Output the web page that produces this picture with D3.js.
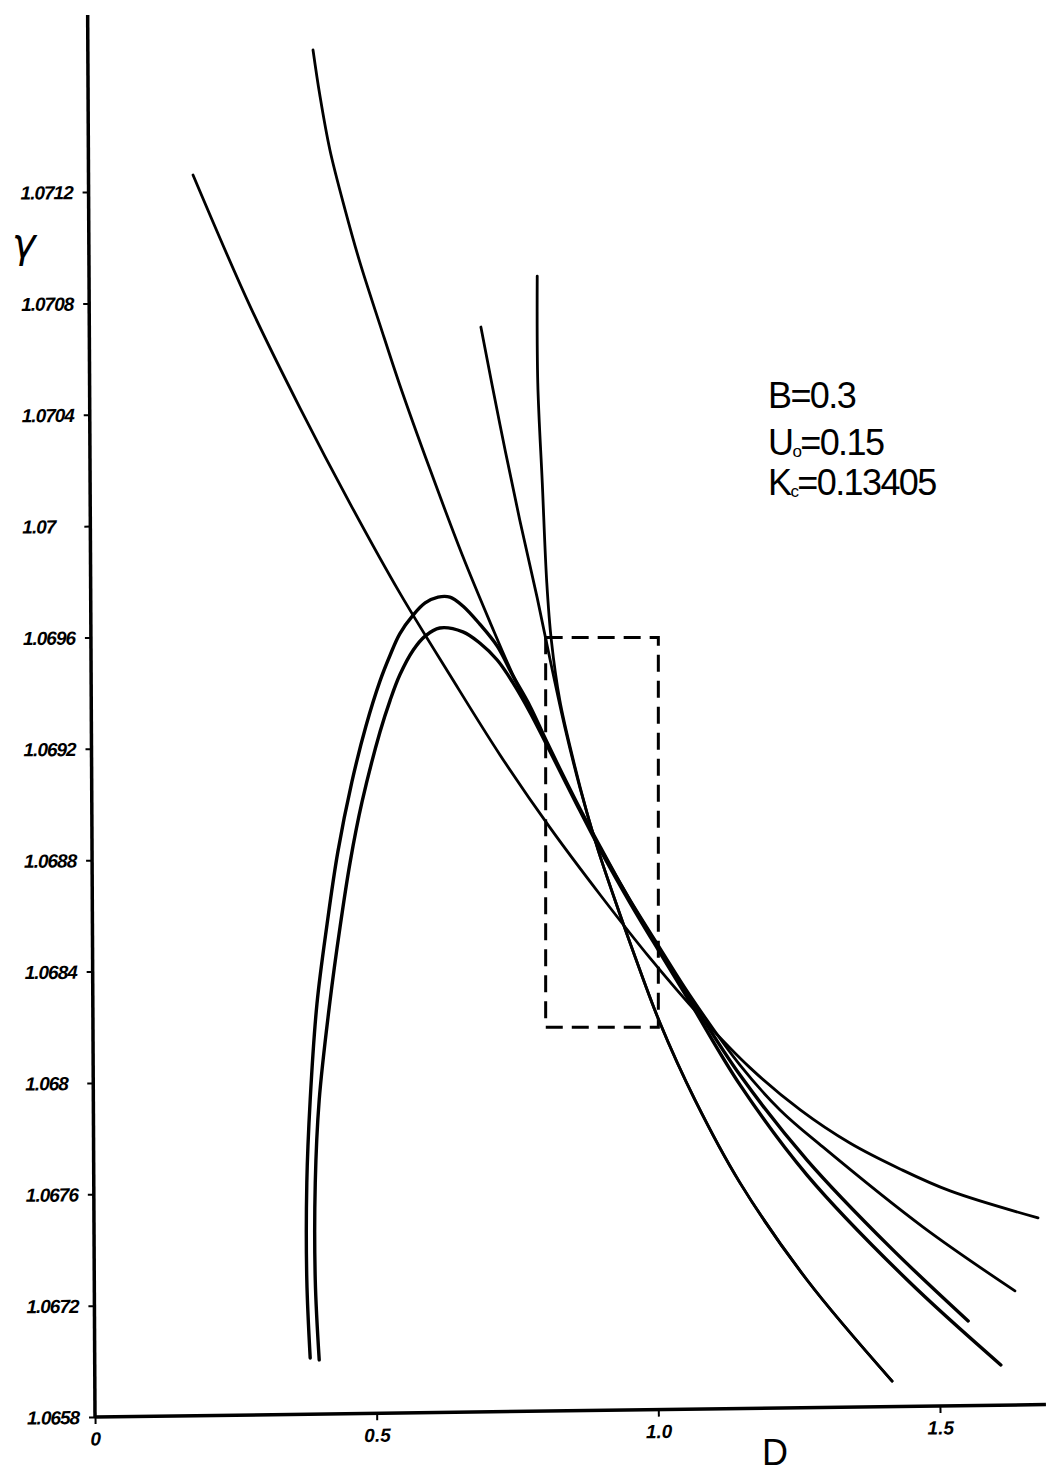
<!DOCTYPE html>
<html>
<head>
<meta charset="utf-8">
<script src="https://cdn.jsdelivr.net/npm/d3@7"></script>
<style>
  body { margin: 0; background: #fff; }
  .tick-label { font-family: "Liberation Sans Narrow", "Liberation Sans", sans-serif; font-weight: bold; font-style: italic; }
</style>
</head>
<body>
<svg id="chart" width="1046" height="1474"></svg>
<script>
//axis ticks
var D_TICKS = [0, 0.5, 1.0, 1.5];
var D_LABELS = ["0", "0.5", "1.0", "1.5"];
var G_TICKS = [1.0668, 1.0672, 1.0676, 1.0680, 1.0684, 1.0688, 1.0692, 1.0696, 1.0700, 1.0704, 1.0708, 1.0712];
var G_LABELS = ["1.0658", "1.0672", "1.0676", "1.068", "1.0684", "1.0688", "1.0692", "1.0696", "1.07", "1.0704", "1.0708", "1.0712"];

//curves, [D, gamma]
var curve1 = [[0.174,1.071261],[0.275,1.070791],[0.364,1.070424],[0.453,1.070080],[0.541,1.069760],[0.630,1.069465],
  [0.719,1.069178],[0.808,1.068916],[0.897,1.068675],[0.985,1.068449],[1.074,1.068240],[1.163,1.068054],[1.252,1.067903],
  [1.340,1.067784],[1.429,1.067691],[1.518,1.067612],[1.674,1.067515]];
var curve2 = [[0.387,1.071710],[0.399,1.071549],[0.417,1.071351],[0.444,1.071136],[0.470,1.070949],[0.506,1.070722],
  [0.541,1.070507],[0.595,1.070202],[0.652,1.069896],[0.701,1.069656],[0.742,1.069465],[0.802,1.069221],[0.852,1.069016],
  [0.897,1.068844],[0.950,1.068657],[1.003,1.068485],[1.056,1.068316],[1.145,1.068064],[1.216,1.067903],[1.292,1.067770],
  [1.470,1.067482],[1.633,1.067253]];
var curve3 = [[0.685,1.070715],[0.719,1.070363],[0.754,1.070022],[0.785,1.069742],[0.808,1.069519],[0.834,1.069278],
  [0.861,1.069059],[0.893,1.068837],[0.923,1.068657],[0.955,1.068474],[1.003,1.068215],[1.065,1.067939],[1.145,1.067641],
  [1.264,1.067292],[1.415,1.066929]];
var curve4 = [[0.785,1.070898],[0.786,1.070514],[0.794,1.070155],[0.802,1.069796],[0.810,1.069591],[0.825,1.069375],
  [0.849,1.069160],[0.873,1.068973],[0.893,1.068837],[0.923,1.068657],[0.955,1.068474],[1.003,1.068215],[1.065,1.067939],
  [1.145,1.067641],[1.264,1.067292],[1.415,1.066929]];
var hump1 = [[0.382,1.067012],[0.376,1.067292],[0.376,1.067641],[0.382,1.067939],[0.394,1.068284],[0.412,1.068571],
  [0.431,1.068829],[0.456,1.069081],[0.481,1.069282],[0.506,1.069444],[0.524,1.069537],[0.541,1.069613],[0.565,1.069681],
  [0.586,1.069724],[0.609,1.069745],[0.630,1.069745],[0.653,1.069713],[0.683,1.069648],[0.714,1.069569],[0.742,1.069462],
  [0.772,1.069354],[0.802,1.069225],[0.852,1.069020],[0.897,1.068847],[0.950,1.068653],[1.003,1.068477],[1.056,1.068305],
  [1.145,1.068028],[1.264,1.067723],[1.411,1.067411],[1.550,1.067145]];
var hump2 = [[0.398,1.067005],[0.391,1.067292],[0.391,1.067641],[0.398,1.067939],[0.417,1.068291],[0.435,1.068560],
  [0.453,1.068794],[0.474,1.069009],[0.506,1.069261],[0.524,1.069375],[0.541,1.069465],[0.565,1.069555],[0.586,1.069605],
  [0.612,1.069634],[0.653,1.069620],[0.683,1.069580],[0.714,1.069519],[0.742,1.069437],[0.772,1.069332],[0.802,1.069214],
  [0.852,1.069013],[0.897,1.068837],[0.950,1.068646],[1.003,1.068467],[1.056,1.068291],[1.145,1.067993],[1.264,1.067669],
  [1.442,1.067292],[1.608,1.066987]];

//dashed box, D range and gamma range
var BOX_D = [0.8, 1.0];
var BOX_G = [1.0682, 1.0696];

//parameter text: [main, subscript, rest]
var PARAMS = [["B", "", "=0.3"], ["U", "o", "=0.15"], ["K", "c", "=0.13405"]];

var LINE_COLOR = "#000";

var svg = d3.select("#chart");

var x = d3.scaleLinear().domain([0, 1.5]).range([95, 940]);
var y = d3.scaleLinear().domain([1.0668, 1.0712]).range([1417, 192]);

//draw x axis (slightly tilted like the scan)
var xAxis = svg.append("g")
    .attr("transform", "translate(0,1417) rotate(-0.75," + x(0) + ",0)")
    .call(d3.axisBottom(x).tickValues(D_TICKS).tickFormat(function (d, i) { return D_LABELS[i]; }).tickSize(7));
xAxis.select(".domain").remove();
xAxis.append("line")
    .attr("x1", x(0))
    .attr("x2", 1046)
    .style("stroke", LINE_COLOR)
    .style("stroke-width", 3.5);
xAxis.selectAll(".tick line").style("stroke-width", 2);
xAxis.selectAll(".tick text")
    .attr("class", "tick-label")
    .attr("y", 15)
    .style("font-size", "19px")
    .style("fill", LINE_COLOR);

//draw y axis
var yAxis = svg.append("g")
    .attr("transform", "translate(" + x(0) + ",0) rotate(-0.3,0," + y(1.0668) + ")")
    .call(d3.axisLeft(y).tickValues(G_TICKS).tickFormat(function (d, i) { return G_LABELS[i]; }).tickSize(6));
yAxis.select(".domain").remove();
yAxis.append("line")
    .attr("y1", y(1.0668))
    .attr("y2", 15)
    .style("stroke", LINE_COLOR)
    .style("stroke-width", 3.5);
yAxis.selectAll(".tick line").style("stroke-width", 2);
yAxis.selectAll(".tick text")
    .attr("class", "tick-label")
    .attr("x", -68)
    .attr("dy", "0.35em")
    .style("text-anchor", "start")
    .style("font-size", "19px")
    .style("letter-spacing", "-1px")
    .style("fill", LINE_COLOR);

//axis titles
svg.append("text")
    .attr("x", 12)
    .attr("y", 257)
    .style("font-family", "'DejaVu Sans', sans-serif")
    .style("font-style", "italic")
    .style("font-size", "40px")
    .text("γ");
svg.append("text")
    .attr("x", 775)
    .attr("y", 1465)
    .style("text-anchor", "middle")
    .style("font-family", "'Liberation Sans', sans-serif")
    .style("font-size", "36px")
    .text("D");

//draw the curves
var line = d3.line()
    .x(function (d) { return x(d[0]); })
    .y(function (d) { return y(d[1]); })
    .curve(d3.curveCatmullRom.alpha(0.5));

[curve1, curve2, curve3, curve4].forEach(function (c) {
    svg.append("path")
        .attr("d", line(c))
        .style("fill", "none")
        .style("stroke", LINE_COLOR)
        .style("stroke-width", 2.8)
        .style("stroke-linecap", "round");
});
[hump1, hump2].forEach(function (c) {
    svg.append("path")
        .attr("d", line(c))
        .style("fill", "none")
        .style("stroke", LINE_COLOR)
        .style("stroke-width", 3.4)
        .style("stroke-linecap", "round");
});

//draw dashed box
svg.append("rect")
    .attr("x", x(BOX_D[0]))
    .attr("y", y(BOX_G[1]))
    .attr("width", x(BOX_D[1]) - x(BOX_D[0]))
    .attr("height", y(BOX_G[0]) - y(BOX_G[1]))
    .style("fill", "none")
    .style("stroke", LINE_COLOR)
    .style("stroke-width", 3)
    .style("stroke-dasharray", "17,9");

//parameter block
var baselines = [408, 455, 495];
PARAMS.forEach(function (p, i) {
    var t = svg.append("text")
        .attr("x", 768)
        .attr("y", baselines[i])
        .style("font-family", "'Liberation Sans', sans-serif")
        .style("font-size", "36px")
        .style("letter-spacing", "-1.6px");
    t.append("tspan").text(p[0]);
    if (p[1]) {
        t.append("tspan")
            .attr("dy", 2)
            .style("font-size", "17px")
            .text(p[1]);
        t.append("tspan").attr("dy", -2).text(p[2]);
    } else {
        t.append("tspan").text(p[2]);
    }
});
</script>
</body>
</html>
